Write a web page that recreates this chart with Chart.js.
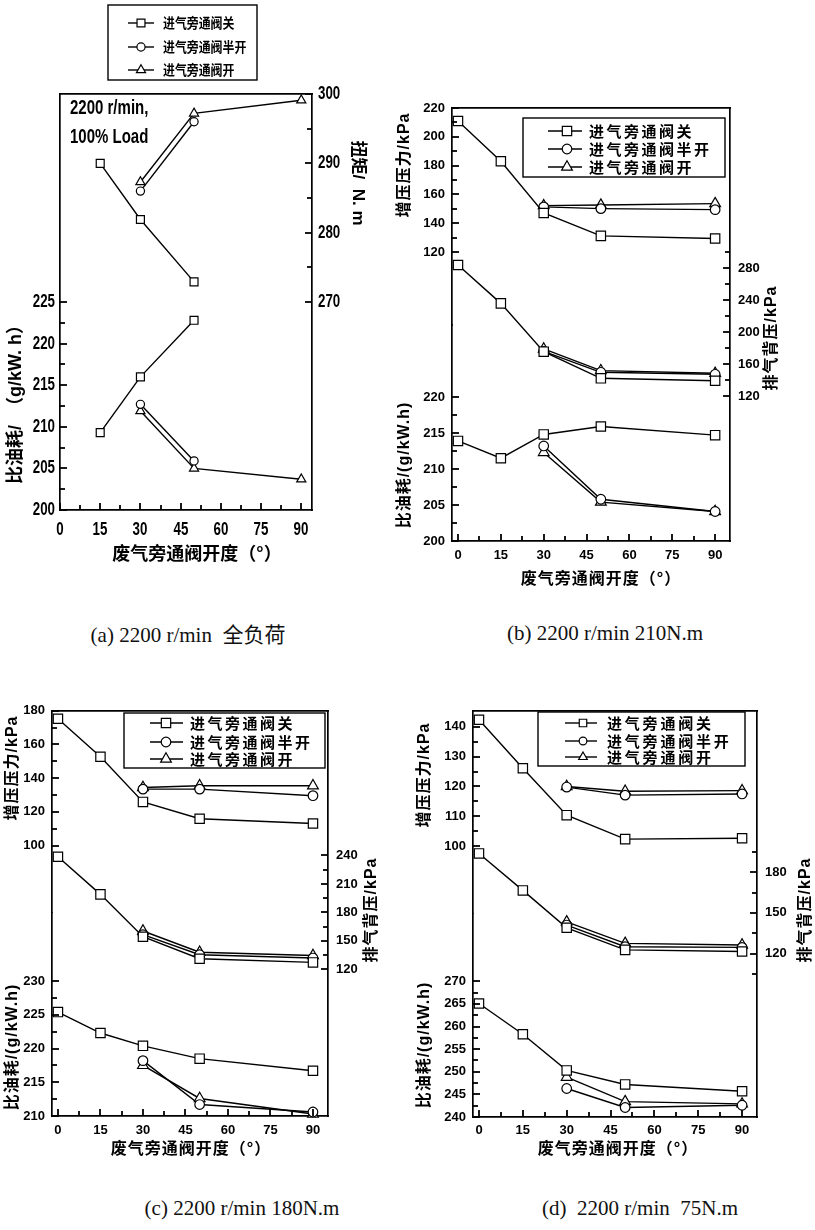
<!DOCTYPE html>
<html>
<head>
<meta charset="utf-8">
<script src="https://cdn.jsdelivr.net/npm/chart.js@4.4.1/dist/chart.umd.min.js"></script>
<style>
  html, body { margin: 0; padding: 0; background: #fff; }
  body { width: 815px; height: 1230px; position: relative; overflow: hidden; }
  canvas { position: absolute; }
  .cap { position: absolute; transform: translate(-50%, -50%); white-space: pre;
         font-family: 'Liberation Serif', 'Times New Roman', 'Noto Sans CJK SC', serif;
         font-size: 21px; color: #111; }
</style>
</head>
<body>
<canvas id="pa" width="390" height="600" style="left:0px;top:0px"></canvas>
<canvas id="pb" width="427" height="520" style="left:388px;top:80px"></canvas>
<canvas id="pc" width="410" height="490" style="left:0px;top:690px"></canvas>
<canvas id="pd" width="405" height="490" style="left:410px;top:690px"></canvas>

<div class="cap" style="left:188px;top:633px">(a) 2200 r/min  全负荷</div>
<div class="cap" style="left:605px;top:633px">(b) 2200 r/min 210N.m</div>
<div class="cap" style="left:242px;top:1208px">(c) 2200 r/min 180N.m</div>
<div class="cap" style="left:640px;top:1208px">(d)  2200 r/min  75N.m</div>

<script>
// ---- shared categories ----
const xTickValues = [0, 15, 30, 45, 60, 75, 90];
const seriesNames = ['进气旁通阀关', '进气旁通阀半开', '进气旁通阀开'];
const angleClosed = [0, 15, 30, 50, 90];
const angleBypass = [30, 50, 90];

// ---- (a) 2200 r/min, full load ----
const aAngleClosed = [15, 30, 50];
const aAngleHalf = [30, 50];
const aAngleOpen = [30, 50, 90];
const aTorqueClosed = [290.0, 281.9, 272.9];
const aTorqueHalf = [286.0, 296.0];
const aTorqueOpen = [287.3, 297.2, 299.1];
const aBsfcClosed = [209.3, 216.0, 222.8];
const aBsfcHalf = [212.7, 205.9];
const aBsfcOpen = [211.9, 205.0, 203.7];
const aBsfcTicks = [200, 205, 210, 215, 220, 225];
const aTorqueTicks = [270, 280, 290, 300];

// ---- (b) 2200 r/min, 210 N.m ----
const bBoostClosed = [211.0, 183.0, 147.1, 131.2, 129.4];
const bBoostHalf = [151.3, 150.1, 149.4];
const bBoostOpen = [152.2, 152.6, 153.6];
const bBackClosed = [283.8, 235.8, 175.4, 142.1, 139.1];
const bBackHalf = [175.8, 149.6, 147.1];
const bBackOpen = [178.8, 151.7, 148.4];
const bBsfcClosed = [213.9, 211.5, 214.8, 215.9, 214.7];
const bBsfcHalf = [213.2, 205.8, 204.1];
const bBsfcOpen = [212.3, 205.4, 204.1];
const bBoostTicks = [120, 140, 160, 180, 200, 220];
const bBackTicks = [120, 160, 200, 240, 280];
const bBsfcTicks = [200, 205, 210, 215, 220];

// ---- (c) 2200 r/min, 180 N.m ----
const cBoostClosed = [175.3, 152.7, 125.9, 115.9, 113.1];
const cBoostHalf = [133.5, 133.5, 129.6];
const cBoostOpen = [134.5, 135.5, 135.5];
const cBackClosed = [238.6, 199.0, 154.4, 131.2, 127.3];
const cBackHalf = [156.5, 135.4, 131.9];
const cBackOpen = [160.4, 138.0, 134.6];
const cBsfcClosed = [225.4, 222.3, 220.4, 218.5, 216.7];
const cBsfcHalf = [218.2, 211.7, 210.6];
const cBsfcOpen = [217.5, 212.6, 210.3];
const cBoostTicks = [100, 120, 140, 160, 180];
const cBackTicks = [120, 150, 180, 210, 240];
const cBsfcTicks = [210, 215, 220, 225, 230];

// ---- (d) 2200 r/min, 75 N.m ----
const dBoostClosed = [142.3, 126.1, 110.4, 102.4, 102.7];
const dBoostHalf = [119.8, 117.1, 117.5];
const dBoostOpen = [120.0, 118.4, 118.6];
const dBackClosed = [193.9, 166.6, 139.0, 122.7, 121.5];
const dBackHalf = [141.0, 125.0, 124.5];
const dBackOpen = [143.4, 127.5, 126.3];
const dBsfcClosed = [265.1, 258.3, 250.3, 247.2, 245.7];
const dBsfcHalf = [246.3, 242.1, 242.6];
const dBsfcOpen = [248.8, 243.4, 242.9];
const dBoostTicks = [100, 110, 120, 130, 140];
const dBackTicks = [120, 150, 180];
const dBsfcTicks = [240, 245, 250, 255, 260, 265, 270];

// ---- fonts ----
const LAT = "'Liberation Sans', Arial, sans-serif";
const MIXED = "'Liberation Sans', 'Noto Sans CJK SC', sans-serif";
const CJK = "'Noto Sans CJK SC', 'Liberation Sans', sans-serif";

function steps(lo, hi, step) {
  const out = [];
  const n = Math.round((hi - lo) / step);
  for (let i = 0; i <= n; i++) out.push(+(lo + i * step).toFixed(4));
  return out;
}
function isLabel(v, labels) { return labels.some(l => Math.abs(l - v) < 1e-6); }

// tick marks are drawn inward by the decor plugin; the library's own are kept invisible
const tickGrid = { drawOnChartArea: false, drawTicks: true, tickLength: -5, tickColor: 'rgba(0,0,0,0)' };
const frameBorder = { display: true, color: '#000', width: 1.7 };

function axisY(o) {
  return {
    type: 'linear', position: o.position, min: o.min, max: o.max,
    stack: o.stack, stackWeight: o.stackWeight, weight: o.weight || 0,
    afterFit: s => { s.width = o.width; },
    afterBuildTicks: s => {
      const minorStep = (o.labels[1] - o.labels[0]) / 2;
      s.ticks = steps(o.lo, o.hi, minorStep).map(v => ({ value: v }));
    },
    ticks: { display: o.showLabels !== false, autoSkip: false, padding: o.pad, color: '#000', font: o.font,
             callback: v => isLabel(v, o.labels) ? String(v) : '' },
    grid: tickGrid,
    border: frameBorder
  };
}
function axisX(o) {
  return {
    type: 'linear', position: 'bottom', min: o.min, max: o.max,
    afterFit: s => { s.height = o.height; },
    afterBuildTicks: s => { s.ticks = steps(0, 90, 7.5).map(v => ({ value: v })); },
    ticks: { display: o.showLabels !== false, autoSkip: false, maxRotation: 0, padding: o.pad, color: '#000',
             font: o.font, callback: v => isLabel(v, xTickValues) ? String(v) : '' },
    grid: tickGrid,
    border: frameBorder
  };
}
function axisTop(o) {
  return {
    type: 'linear', position: 'top', min: o.min, max: o.max,
    afterFit: s => { s.height = 0; },
    ticks: { display: false }, grid: { display: false }, border: frameBorder
  };
}

const markers = [
  { pointStyle: 'rect', radius: 6.6 },
  { pointStyle: 'circle', radius: 4.8 },
  { pointStyle: 'triangle', radius: 6.2 }
];
function series(xs, ys, axis, kind, k) {
  const m = markers[kind];
  return {
    data: xs.map((x, i) => ({ x: x, y: ys[i] })),
    xAxisID: 'x', yAxisID: axis,
    borderColor: '#000', borderWidth: 1.4, tension: 0, fill: false, clip: false,
    pointStyle: m.pointStyle, pointRadius: m.radius * k, pointHoverRadius: m.radius * k,
    pointBorderWidth: 1.2, pointBackgroundColor: '#fff', pointBorderColor: '#000'
  };
}

// inward tick marks, titles, annotations and the boxed legend of one panel
function decor(panel) {
  return {
    id: 'decor',
    afterDatasetsDraw(chart) {
      const ctx = chart.ctx;
      ctx.save();
      ctx.strokeStyle = '#000';
      ctx.lineWidth = 1.8;
      Object.keys(panel.majors).forEach(id => {
        const s = chart.scales[id];
        const majors = panel.majors[id];
        s.ticks.forEach(t => {
          const major = isLabel(t.value, majors);
          const len = major ? 7 : 5;
          const p = Math.round(s.getPixelForValue(t.value));
          ctx.beginPath();
          if (s.position === 'left') { ctx.moveTo(s.right, p); ctx.lineTo(s.right + len, p); }
          else if (s.position === 'right') { ctx.moveTo(s.left, p); ctx.lineTo(s.left - len, p); }
          else { ctx.moveTo(p, s.top); ctx.lineTo(p, s.top - len); }
          ctx.stroke();
          // condensed tick labels where the panel asks for them
          if (panel.labelFont && major) {
            const f = panel.labelFont;
            ctx.save();
            ctx.fillStyle = '#000';
            ctx.font = 'bold ' + f.size + 'px ' + LAT;
            ctx.textBaseline = 'middle';
            if (s.position === 'left') { ctx.translate(s.right - f.gapL, p); ctx.textAlign = 'right'; }
            else if (s.position === 'right') { ctx.translate(s.left + f.gapR, p); ctx.textAlign = 'left'; }
            else { ctx.translate(p, s.top + f.gapX); ctx.textAlign = 'center'; }
            ctx.scale(f.sx, 1);
            ctx.fillText(String(t.value), 0, 0);
            ctx.restore();
          }
        });
      });
      ctx.restore();
    },
    afterDraw(chart) {
      const ctx = chart.ctx;
      panel.texts.forEach(t => {
        ctx.save();
        ctx.translate(t.x - panel.left, t.y - panel.top);
        ctx.rotate((t.rot || 0) * Math.PI / 180);
        ctx.scale(t.sx || 1, 1);
        ctx.font = 'bold ' + t.size + 'px ' + (t.family || MIXED);
        ctx.letterSpacing = (t.ls || 0) + 'px';
        ctx.fillStyle = '#000';
        ctx.textAlign = t.align || 'center';
        ctx.textBaseline = 'middle';
        ctx.fillText(t.text, 0, 0);
        ctx.restore();
      });

      const L = panel.legend;
      ctx.save();
      ctx.fillStyle = '#fff';
      ctx.fillRect(L.x, L.y, L.w, L.h);
      ctx.strokeStyle = '#000';
      ctx.lineWidth = 1.4;
      ctx.strokeRect(L.x, L.y, L.w, L.h);
      seriesNames.forEach((name, i) => {
        const ry = L.rows[i];
        ctx.strokeStyle = '#000';
        ctx.lineWidth = 1.4;
        ctx.beginPath();
        ctx.moveTo(L.x1, ry);
        ctx.lineTo(L.x2, ry);
        ctx.stroke();
        ctx.fillStyle = '#fff';
        ctx.lineWidth = 1.2;
        Chart.helpers.drawPoint(ctx, { pointStyle: markers[i].pointStyle, radius: markers[i].radius * L.k,
                                       borderWidth: 1.2, rotation: 0 }, L.mx, ry);
        ctx.fillStyle = '#000';
        ctx.font = 'bold ' + L.size + 'px ' + CJK;
        ctx.letterSpacing = L.ls + 'px';
        ctx.textAlign = 'left';
        ctx.textBaseline = 'middle';
        ctx.save();
        ctx.translate(L.tx, ry);
        ctx.scale(L.sx || 1, 1);
        ctx.fillText(name, 0, 0);
        ctx.restore();
      });
      ctx.restore();
    }
  };
}

function makeChart(id, panel, scales, datasets) {
  return new Chart(document.getElementById(id), {
    type: 'line',
    data: { datasets: datasets },
    options: {
      responsive: false, animation: false, devicePixelRatio: 1,
      layout: { padding: { top: panel.padTop, left: 0, right: 0, bottom: 0 } },
      plugins: { legend: { display: false }, tooltip: { enabled: false } },
      events: [],
      scales: scales
    },
    plugins: [decor(panel)]
  });
}

const smallTick = { family: LAT, size: 13, weight: 'bold' };

// ---------- (a) ----------
const panelA = {
  left: 0, top: 0, padTop: 94,
  majors: { x: xTickValues, yBsfc: aBsfcTicks, yTorque: aTorqueTicks },
  labelFont: { size: 18, sx: 0.74, gapL: 5, gapR: 6, gapX: 20 },
  texts: [
    { text: '比油耗/  （g/kW. h）', x: 16, y: 400, rot: -90, size: 18, family: MIXED },
    { text: '扭矩/  N. m', x: 358, y: 183, rot: 90, size: 17, family: MIXED },
    { text: '废气旁通阀开度（°）', x: 197, y: 553, size: 18, family: CJK },
    { text: '2200 r/min,', x: 70, y: 108, size: 20, align: 'left', sx: 0.75, family: LAT },
    { text: '100% Load', x: 70, y: 137, size: 20, align: 'left', sx: 0.75, family: LAT }
  ],
  legend: { x: 108, y: 5, w: 149, h: 75, rows: [23, 47, 70], x1: 128, x2: 154, mx: 141, tx: 163,
            size: 14, ls: 0, sx: 0.85, k: 0.85 }
};
makeChart('pa', panelA, {
  x: axisX({ min: 0, max: 94, height: 90, pad: 17, font: smallTick, showLabels: false }),
  xTop: axisTop({ min: 0, max: 94 }),
  yBsfc: axisY({ position: 'left', min: 200, max: 250, width: 60, pad: 10, font: smallTick, showLabels: false,
                 labels: aBsfcTicks, lo: 200, hi: 225 }),
  yTorque: axisY({ position: 'right', min: 240, max: 300, width: 78, pad: 11, font: smallTick, showLabels: false,
                   labels: aTorqueTicks, lo: 270, hi: 300 })
}, [
  series(aAngleClosed, aTorqueClosed, 'yTorque', 0, 0.85),
  series(aAngleHalf, aTorqueHalf, 'yTorque', 1, 0.85),
  series(aAngleOpen, aTorqueOpen, 'yTorque', 2, 0.85),
  series(aAngleClosed, aBsfcClosed, 'yBsfc', 0, 0.85),
  series(aAngleHalf, aBsfcHalf, 'yBsfc', 1, 0.85),
  series(aAngleOpen, aBsfcOpen, 'yBsfc', 2, 0.85)
]);

// ---------- (b) ----------
const panelB = {
  left: 388, top: 80, padTop: 28,
  majors: { x: xTickValues, yBoost: bBoostTicks, yBsfc: bBsfcTicks, yBack: bBackTicks },
  texts: [
    { text: '增压压力/kPa', x: 405, y: 165, rot: -90, size: 16, ls: 1 },
    { text: '比油耗/(g/kW.h)', x: 405, y: 465, rot: -90, size: 16, ls: 1 },
    { text: '排气背压/kPa', x: 772, y: 338, rot: -90, size: 16, ls: 1 },
    { text: '废气旁通阀开度（°）', x: 601, y: 578, size: 16, ls: 1, family: CJK }
  ],
  legend: { x: 135, y: 38, w: 202, h: 59, rows: [51, 69, 87], x1: 160, x2: 194, mx: 179, tx: 201,
            size: 15, ls: 2.5, k: 1 }
};
makeChart('pb', panelB, {
  x: axisX({ min: -2.1, max: 95.2, height: 59, pad: 12, font: smallTick }),
  xTop: axisTop({ min: -2.1, max: 95.2 }),
  yBoost: axisY({ position: 'left', stack: 'L', stackWeight: 217, weight: 2, min: 69.3, max: 220,
                  width: 64, pad: 12, font: smallTick, labels: bBoostTicks, lo: 120, hi: 220 }),
  yBsfc: axisY({ position: 'left', stack: 'L', stackWeight: 216, weight: 1, min: 200, max: 230,
                 width: 64, pad: 12, font: smallTick, labels: bBsfcTicks, lo: 200, hi: 220 }),
  yBack: axisY({ position: 'right', min: -61.25, max: 480, width: 85, pad: 13, font: smallTick,
                 labels: bBackTicks, lo: 120, hi: 300 })
}, [
  series(angleClosed, bBoostClosed, 'yBoost', 0, 1),
  series(angleBypass, bBoostHalf, 'yBoost', 1, 1),
  series(angleBypass, bBoostOpen, 'yBoost', 2, 1),
  series(angleClosed, bBackClosed, 'yBack', 0, 1),
  series(angleBypass, bBackHalf, 'yBack', 1, 1),
  series(angleBypass, bBackOpen, 'yBack', 2, 1),
  series(angleClosed, bBsfcClosed, 'yBsfc', 0, 1),
  series(angleBypass, bBsfcHalf, 'yBsfc', 1, 1),
  series(angleBypass, bBsfcOpen, 'yBsfc', 2, 1)
]);

// ---------- (c) ----------
const panelC = {
  left: 0, top: 690, padTop: 17,
  majors: { x: xTickValues, yBoost: cBoostTicks, yBsfc: cBsfcTicks, yBack: cBackTicks },
  texts: [
    { text: '增压压力/kPa', x: 13, y: 768, rot: -90, size: 16, ls: 1 },
    { text: '比油耗/(g/kW.h)', x: 13, y: 1047, rot: -90, size: 16, ls: 1 },
    { text: '排气背压/kPa', x: 372, y: 910, rot: -90, size: 16, ls: 1 },
    { text: '废气旁通阀开度（°）', x: 191, y: 1148, size: 16, ls: 1, family: CJK }
  ],
  legend: { x: 124, y: 23, w: 201, h: 55, rows: [33, 52, 69], x1: 150, x2: 183, mx: 166, tx: 190,
            size: 15, ls: 2.5, k: 1 }
};
makeChart('pc', panelC, {
  x: axisX({ min: -2.1, max: 95.3, height: 64, pad: 12, font: smallTick }),
  xTop: axisTop({ min: -2.1, max: 95.3 }),
  yBoost: axisY({ position: 'left', stack: 'L', stackWeight: 204, weight: 2, min: 60, max: 180,
                  width: 52, pad: 12, font: smallTick, labels: cBoostTicks, lo: 100, hi: 180 }),
  yBsfc: axisY({ position: 'left', stack: 'L', stackWeight: 205, weight: 1, min: 210, max: 240.1,
                 width: 52, pad: 12, font: smallTick, labels: cBsfcTicks, lo: 210, hi: 230 }),
  yBack: axisY({ position: 'right', min: -34.5, max: 392.4, width: 82, pad: 13, font: smallTick,
                 labels: cBackTicks, lo: 120, hi: 240 })
}, [
  series(angleClosed, cBoostClosed, 'yBoost', 0, 1),
  series(angleBypass, cBoostHalf, 'yBoost', 1, 1),
  series(angleBypass, cBoostOpen, 'yBoost', 2, 1),
  series(angleClosed, cBackClosed, 'yBack', 0, 1),
  series(angleBypass, cBackHalf, 'yBack', 1, 1),
  series(angleBypass, cBackOpen, 'yBack', 2, 1),
  series(angleClosed, cBsfcClosed, 'yBsfc', 0, 1),
  series(angleBypass, cBsfcHalf, 'yBsfc', 1, 1),
  series(angleBypass, cBsfcOpen, 'yBsfc', 2, 1)
]);

// ---------- (d) ----------
const panelD = {
  left: 410, top: 690, padTop: 17,
  majors: { x: xTickValues, yBoost: dBoostTicks, yBsfc: dBsfcTicks, yBack: dBackTicks },
  texts: [
    { text: '增压压力/kPa', x: 425, y: 775, rot: -90, size: 16, ls: 1 },
    { text: '比油耗/(g/kW.h)', x: 425, y: 1045, rot: -90, size: 16, ls: 1 },
    { text: '排气背压/kPa', x: 806, y: 910, rot: -90, size: 16, ls: 1 },
    { text: '废气旁通阀开度（°）', x: 618, y: 1148, size: 16, ls: 1, family: CJK }
  ],
  legend: { x: 128, y: 22, w: 207, h: 54, rows: [33, 51, 67], x1: 155, x2: 187, mx: 173, tx: 197,
            size: 15, ls: 2.8, k: 0.8 }
};
makeChart('pd', panelD, {
  x: axisX({ min: -2.05, max: 95.1, height: 63, pad: 11, font: smallTick }),
  xTop: axisTop({ min: -2.05, max: 95.1 }),
  yBoost: axisY({ position: 'left', stack: 'L', stackWeight: 205, weight: 2, min: 77.4, max: 145.3,
                  width: 63, pad: 12, font: smallTick, labels: dBoostTicks, lo: 100, hi: 140 }),
  yBsfc: axisY({ position: 'left', stack: 'L', stackWeight: 205, weight: 1, min: 240, max: 284.9,
                 width: 63, pad: 12, font: smallTick, labels: dBsfcTicks, lo: 240, hi: 270 }),
  yBack: axisY({ position: 'right', min: -0.7, max: 299.2, width: 58, pad: 13, font: smallTick,
                 labels: dBackTicks, lo: 105, hi: 195 })
}, [
  series(angleClosed, dBoostClosed, 'yBoost', 0, 1),
  series(angleBypass, dBoostHalf, 'yBoost', 1, 1),
  series(angleBypass, dBoostOpen, 'yBoost', 2, 1),
  series(angleClosed, dBackClosed, 'yBack', 0, 1),
  series(angleBypass, dBackHalf, 'yBack', 1, 1),
  series(angleBypass, dBackOpen, 'yBack', 2, 1),
  series(angleClosed, dBsfcClosed, 'yBsfc', 0, 1),
  series(angleBypass, dBsfcHalf, 'yBsfc', 1, 1),
  series(angleBypass, dBsfcOpen, 'yBsfc', 2, 1)
]);
</script>
</body>
</html>
